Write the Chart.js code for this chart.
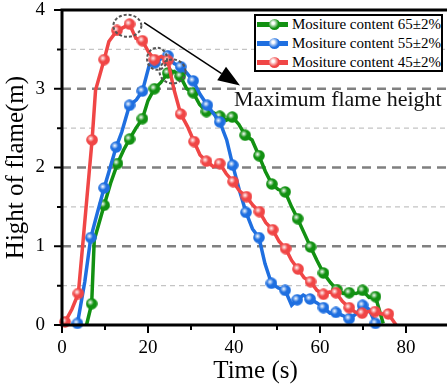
<!DOCTYPE html>
<html>
<head>
<meta charset="utf-8">
<script src="https://cdn.jsdelivr.net/npm/chart.js@4"></script>
<style>
  html, body { margin: 0; padding: 0; background: #fff; overflow: hidden; }
  #wrap { position: relative; width: 449px; height: 389px; }
  #legend {
    position: absolute; left: 254px; top: 14px; width: 189px; height: 58px;
    border: 2px solid #000; box-sizing: border-box; background: #fff;
    font-family: "Liberation Serif", serif; font-size: 15px; color: #000;
  }
  .row { height: 19px; display: flex; align-items: center; white-space: nowrap; }
  .row:first-child { margin-top: -1px; }
  .swatch { position: relative; width: 35px; height: 5px; margin-left: 1px; margin-right: 4px; }
  .dot { position: absolute; left: 12px; top: -3px; width: 11px; height: 11px; border-radius: 50%; }
</style>
</head>
<body>
<div id="wrap">
  <canvas id="flameChart" width="449" height="389"></canvas>
  <div id="legend"></div>
</div>
<script>
// ===== Data =====
const seriesNames = ["Mositure content 65\u00b12%", "Mositure content 55\u00b12%", "Mositure content 45\u00b12%"];
const seriesColors = ["#129112", "#1f6fe0", "#f04646"];

// markers sit on the odd indexes, even indexes are the line wiggles in between
const time65 = [5.7, 6.9, 7.5, 9.8, 11.3, 12.9, 14.3, 15.7, 17.2, 18.7, 20.0, 21.5, 23.0, 24.6, 26.1, 27.5,
  29.0, 30.5, 32.0, 33.6, 35.1, 36.7, 38.2, 39.6, 41.1, 42.6, 44.2, 45.8, 47.3, 48.8, 50.3, 51.9,
  53.4, 54.8, 56.3, 57.8, 59.3, 60.8, 62.4, 63.9, 65.4, 66.8, 68.4, 69.9, 71.4, 72.9, 74.7];
const height65 = [0, 0.27, 1.08, 1.52, 1.8, 2.05, 2.22, 2.36, 2.5, 2.62, 2.85, 3.0, 3.08, 3.2, 3.22, 3.16,
  3.0, 2.95, 2.8, 2.71, 2.7, 2.65, 2.6, 2.64, 2.55, 2.41, 2.35, 2.15, 1.95, 1.79, 1.72, 1.69,
  1.5, 1.35, 1.17, 0.99, 0.82, 0.66, 0.54, 0.45, 0.40, 0.41, 0.40, 0.44, 0.35, 0.36, 0.02];

const time55 = [2.6, 3.6, 5.3, 6.7, 8.2, 9.8, 11.2, 12.6, 13.9, 15.7, 17.3, 18.7, 20.3, 21.6, 23.0, 24.6,
  26.1, 27.6, 29.0, 30.5, 32.1, 33.8, 35.3, 36.7, 38.3, 39.7, 41.2, 42.8, 44.3, 45.8, 47.2, 48.7,
  50.3, 51.9, 53.4, 54.7, 56.1, 57.7, 59.3, 60.8, 62.3, 63.7, 65.3, 66.8, 68.4, 69.9, 71.4, 72.9, 73.3];
const height55 = [0, 0.02, 0.55, 1.11, 1.42, 1.74, 2.0, 2.26, 2.45, 2.79, 2.86, 2.97, 3.3, 3.33, 3.38, 3.42,
  3.32, 3.28, 3.2, 3.1, 2.93, 2.79, 2.68, 2.58, 2.35, 2.03, 1.72, 1.43, 1.22, 1.11, 0.78, 0.53,
  0.47, 0.44, 0.25, 0.32, 0.38, 0.33, 0.28, 0.22, 0.15, 0.16, 0.12, 0.08, 0.14, 0.25, 0.2, 0.02, 0];

const time45 = [0, 0.7, 2.3, 3.8, 5.2, 7.0, 7.8, 9.8, 10.9, 12.8, 14.0, 15.7, 17.2, 18.7, 20.1, 21.5,
  23.1, 24.6, 26.0, 27.6, 29.2, 30.7, 32.1, 33.6, 35.2, 36.7, 38.2, 39.8, 41.3, 42.9, 44.4, 45.9,
  47.4, 49.0, 50.5, 52.0, 53.4, 54.9, 56.3, 57.8, 59.3, 60.8, 62.2, 63.7, 65.2, 66.8, 68.3, 69.8,
  71.3, 72.8, 74.4, 75.9, 77.7];
const height45 = [0, 0.04, 0.2, 0.40, 1.25, 2.35, 2.98, 3.37, 3.6, 3.74, 3.77, 3.82, 3.64, 3.61, 3.47, 3.37,
  3.41, 3.36, 3.0, 2.68, 2.52, 2.33, 2.16, 2.08, 2.01, 2.05, 1.92, 1.82, 1.70, 1.63, 1.52, 1.44,
  1.30, 1.21, 1.06, 0.97, 0.82, 0.71, 0.60, 0.55, 0.44, 0.39, 0.42, 0.41, 0.30, 0.22, 0.16, 0.15,
  0.17, 0.17, 0.14, 0.14, 0];

const xTickLabels = [0, 20, 40, 60, 80];
const yTickLabels = [0, 1, 2, 3, 4];

const serif = "'Liberation Serif', serif";

// ===== Glossy marker =====
function makeDot(color) {
  const c = document.createElement("canvas");
  c.width = 12; c.height = 12;
  const g = c.getContext("2d");
  g.beginPath();
  g.arc(6, 6, 5.8, 0, Math.PI * 2);
  g.fillStyle = color;
  g.fill();
  const grad = g.createRadialGradient(4.6, 4.6, 0, 4.6, 4.6, 3.4);
  grad.addColorStop(0, "rgba(255,255,255,1)");
  grad.addColorStop(1, "rgba(255,255,255,0)");
  g.fillStyle = grad;
  g.beginPath();
  g.arc(6, 6, 5.8, 0, Math.PI * 2);
  g.fill();
  return c;
}

function toPoints(ts, hs) {
  return ts.map((t, i) => ({ x: t, y: hs[i] }));
}

function makeSet(i, ts, hs, order) {
  const dot = makeDot(seriesColors[i]);
  return {
    label: seriesNames[i],
    data: toPoints(ts, hs),
    borderColor: seriesColors[i],
    backgroundColor: seriesColors[i],
    borderWidth: 3.5,
    tension: 0,
    clip: false,
    order: order,
    pointStyle: dot,
    pointRadius: (ctx) => (ctx.dataIndex % 2 === 1 ? 5.5 : 0),
    pointHoverRadius: 0
  };
}

// ===== Legend =====
const legend = document.getElementById("legend");
seriesNames.forEach((name, i) => {
  const row = document.createElement("div");
  row.className = "row";
  const sw = document.createElement("div");
  sw.className = "swatch";
  sw.style.background = seriesColors[i];
  const dot = document.createElement("div");
  dot.className = "dot";
  dot.style.background = "radial-gradient(circle at 38% 38%, #fff 0, #fff 12%, " + seriesColors[i] + " 55%)";
  sw.appendChild(dot);
  const txt = document.createElement("span");
  txt.textContent = name;
  row.appendChild(sw);
  row.appendChild(txt);
  legend.appendChild(row);
});

// ===== Grid, frame, ticks and annotation =====
const decor = {
  id: "decor",
  beforeDatasetsDraw(chart) {
    const { ctx, chartArea: a, scales: { y } } = chart;
    ctx.save();
    for (let v = 0.5; v < 4; v += 0.5) {
      const py = y.getPixelForValue(v);
      const major = Number.isInteger(v);
      ctx.beginPath();
      ctx.setLineDash(major ? [9, 6] : [5, 4]);
      ctx.lineWidth = major ? 2.5 : 1.2;
      ctx.strokeStyle = major ? "#808080" : "#c4c4c4";
      ctx.moveTo(a.left, py);
      ctx.lineTo(a.right, py);
      ctx.stroke();
    }
    ctx.restore();
  },
  afterDatasetsDraw(chart) {
    const { ctx, scales: { x, y } } = chart;
    ctx.save();
    // dashed rings round the peaks
    ctx.setLineDash([3, 2]);
    ctx.lineWidth = 2;
    ctx.strokeStyle = "#555";
    [[15.2, 3.80, 14, 11], [22.1, 3.38, 10, 11], [25.7, 3.22, 13, 12]].forEach(([t, h, rx, ry]) => {
      ctx.beginPath();
      ctx.ellipse(x.getPixelForValue(t), y.getPixelForValue(h), rx, ry, 0, 0, Math.PI * 2);
      ctx.stroke();
    });
    ctx.setLineDash([]);
    // arrow
    const x0 = x.getPixelForValue(19.1), y0 = y.getPixelForValue(3.84);
    const x1 = x.getPixelForValue(41.4), y1 = y.getPixelForValue(3.04);
    const len = Math.hypot(x1 - x0, y1 - y0);
    const ux = (x1 - x0) / len, uy = (y1 - y0) / len;
    const bx = x1 - ux * 22, by = y1 - uy * 22;
    ctx.strokeStyle = "#000";
    ctx.lineWidth = 1.5;
    ctx.beginPath();
    ctx.moveTo(x0, y0);
    ctx.lineTo(bx, by);
    ctx.stroke();
    ctx.fillStyle = "#000";
    ctx.beginPath();
    ctx.moveTo(x1, y1);
    ctx.lineTo(bx - uy * 8, by + ux * 8);
    ctx.lineTo(bx + uy * 8, by - ux * 8);
    ctx.closePath();
    ctx.fill();
    // label
    ctx.font = "22px " + serif;
    ctx.fillStyle = "#111";
    ctx.textBaseline = "alphabetic";
    ctx.fillText("Maximum flame height", x.getPixelForValue(40), y.getPixelForValue(2.78));
    ctx.restore();
  },
  afterDraw(chart) {
    const { ctx, chartArea: a, scales: { x, y } } = chart;
    ctx.save();
    ctx.strokeStyle = "#000";
    ctx.lineWidth = 3;
    ctx.beginPath();
    ctx.moveTo(a.left, a.top); ctx.lineTo(a.right, a.top);
    ctx.moveTo(a.left, a.top - 1.5); ctx.lineTo(a.left, a.bottom + 1.5);
    ctx.moveTo(a.left - 1.5, a.bottom); ctx.lineTo(a.right, a.bottom);
    ctx.stroke();
    ctx.lineWidth = 2;
    ctx.beginPath();
    for (let v = 0; v <= 4; v += 0.5) {
      const py = y.getPixelForValue(v);
      ctx.moveTo(a.left, py);
      ctx.lineTo(a.left - (Number.isInteger(v) ? 8 : 5), py);
    }
    for (let v = 0; v <= 90; v += 10) {
      const px = x.getPixelForValue(v);
      ctx.moveTo(px, a.bottom);
      ctx.lineTo(px, a.bottom + (v % 20 === 0 ? 8 : 5));
    }
    ctx.stroke();
    ctx.restore();
  }
};

// ===== Chart =====
new Chart(document.getElementById("flameChart"), {
  type: "line",
  data: {
    datasets: [
      makeSet(0, time65, height65, 2),
      makeSet(1, time55, height55, 1),
      makeSet(2, time45, height45, 0)
    ]
  },
  options: {
    responsive: false,
    animation: false,
    layout: { padding: { top: 10, left: 0, right: 0, bottom: 0 } },
    plugins: { legend: { display: false }, tooltip: { enabled: false } },
    scales: {
      x: {
        type: "linear",
        min: 0, max: 90,
        grid: { display: false },
        border: { display: false },
        ticks: {
          stepSize: 10,
          autoSkip: false,
          maxRotation: 0,
          padding: 4,
          color: "#000",
          font: { family: serif, size: 19 },
          callback: (v) => (xTickLabels.includes(v) ? v : "")
        },
        title: {
          display: true,
          text: "Time (s)",
          color: "#000",
          font: { family: serif, size: 25 },
          padding: { top: 0, bottom: 3 }
        },
        afterFit: (s) => { s.height = 64; s.paddingLeft = 0; s.paddingRight = 0; }
      },
      y: {
        min: 0, max: 4,
        grid: { display: false },
        border: { display: false },
        ticks: {
          stepSize: 0.5,
          autoSkip: false,
          padding: 9,
          color: "#000",
          font: { family: serif, size: 19 },
          callback: (v) => (yTickLabels.includes(v) ? v : "")
        },
        title: {
          display: true,
          text: "Hight of flame(m)",
          color: "#000",
          font: { family: serif, size: 25 },
          padding: { top: 1, bottom: 0 }
        },
        afterFit: (s) => { s.width = 62; s.paddingTop = 0; s.paddingBottom = 0; }
      }
    }
  },
  plugins: [decor]
});
</script>
</body>
</html>
